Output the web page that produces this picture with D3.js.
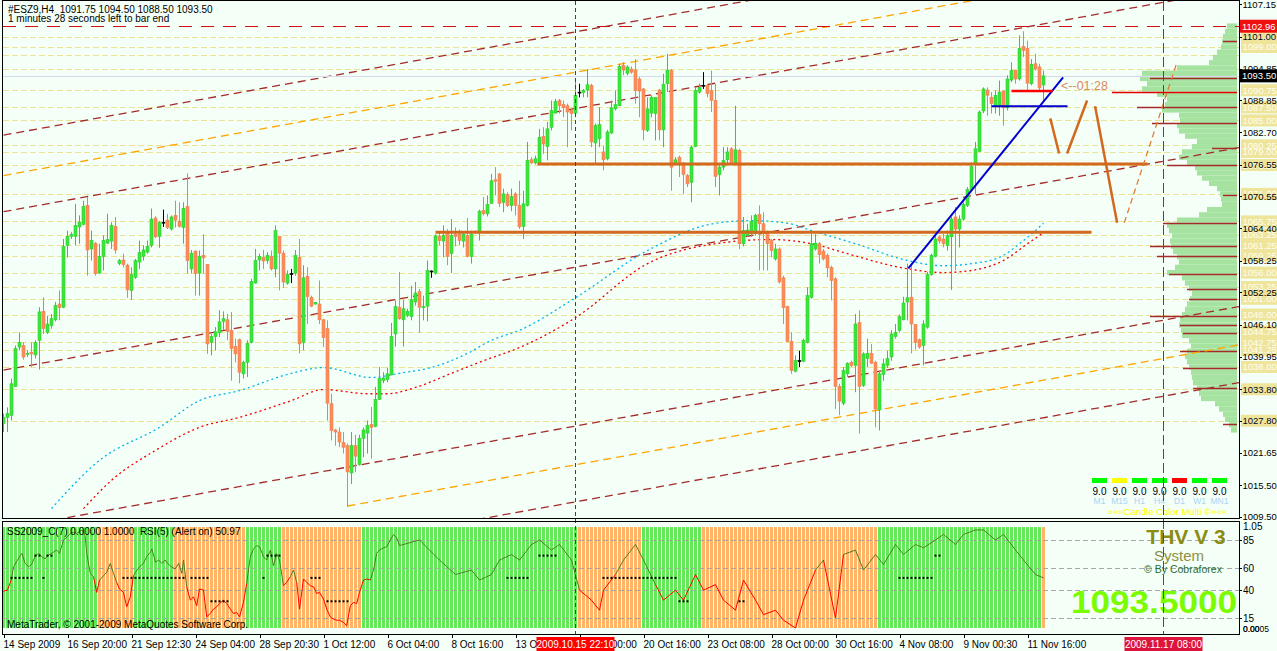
<!DOCTYPE html>
<html lang="en">
  <head>
    <meta charset="utf-8" />
    <title>#ESZ9,H4</title>
    <script type="text/javascript" src="https://d3js.org/d3.v7.min.js"></script>
    <style>
      body { margin: 0; background: #f4fff8; }
      text { font-family: "Liberation Sans", Arial, sans-serif; }
    </style>
  </head>
  <body>
    <script type="text/javascript">
      // ---- data ----
      // one candle per H4 bar: [open, high, low, close]
      var candles = [
        [1027.2,1029.1,1025.6,1028.4],[1028.4,1030.3,1025.6,1029.1],[1028.8,1035.8,1027.8,1034.8],[1034.3,1042.1,1034.2,1041.5],
        [1041.8,1044.6,1041.2,1042.7],[1042.1,1042.7,1039.4,1039.9],[1040.4,1041.2,1039.9,1040.6],[1040.8,1042.7,1038.0,1040.5],
        [1040.3,1043.1,1039.6,1042.7],[1043.1,1049.4,1037.5,1048.5],[1048.6,1051.3,1044.3,1045.3],[1044.6,1047.8,1044.3,1046.2],
        [1045.9,1048.1,1045.3,1047.2],[1047.0,1050.4,1046.7,1049.7],[1050.0,1052.6,1046.9,1049.3],[1049.4,1062.4,1049.2,1061.0],
        [1061.2,1064.0,1058.9,1062.9],[1062.9,1063.7,1062.4,1063.3],[1062.9,1069.1,1061.2,1065.0],[1064.7,1066.9,1061.5,1065.6],
        [1065.2,1069.7,1065.0,1068.6],[1068.8,1070.4,1055.4,1060.3],[1060.5,1064.0,1058.3,1062.1],[1061.6,1061.8,1055.4,1055.8],
        [1055.9,1061.5,1055.8,1059.1],[1059.1,1063.1,1056.4,1062.1],[1061.6,1067.2,1061.5,1062.3],[1062.0,1065.6,1060.5,1065.0],
        [1064.8,1066.6,1059.6,1060.3],[1057.7,1058.6,1057.4,1058.3],[1058.4,1059.6,1057.0,1057.5],[1057.4,1057.7,1051.2,1052.7],
        [1052.6,1057.0,1050.8,1055.6],[1055.1,1058.6,1054.8,1058.3],[1058.0,1062.1,1056.7,1059.8],[1059.1,1061.2,1058.3,1060.3],
        [1059.9,1062.1,1059.6,1061.0],[1061.2,1068.2,1060.8,1066.2],[1066.4,1066.7,1062.6,1062.8],[1062.9,1065.8,1060.7,1065.5],
        [1065.6,1068.0,1064.7,1065.6],[1066.0,1067.2,1064.3,1064.6],[1064.3,1066.9,1064.0,1066.6],[1066.9,1069.7,1064.6,1066.0],
        [1065.8,1069.4,1064.6,1064.8],[1064.6,1069.4,1061.5,1068.2],[1068.6,1074.9,1055.8,1058.3],[1056.7,1060.3,1055.8,1059.7],
        [1060.1,1060.2,1051.6,1055.8],[1055.9,1060.2,1051.6,1059.1],[1059.3,1063.3,1055.8,1058.8],[1057.5,1057.6,1040.5,1042.4],
        [1042.7,1044.3,1040.2,1043.8],[1043.8,1045.6,1041.2,1044.7],[1044.5,1048.8,1043.7,1046.6],[1046.7,1048.6,1045.0,1047.2],
        [1047.0,1048.1,1043.1,1044.8],[1045.0,1048.5,1035.4,1041.5],[1041.9,1043.4,1038.9,1040.5],[1043.2,1043.4,1034.9,1037.0],
        [1036.7,1039.2,1035.8,1038.9],[1038.9,1043.1,1036.1,1042.5],[1042.7,1054.8,1042.5,1054.3],[1054.0,1060.5,1053.9,1058.3],
        [1058.4,1059.6,1056.4,1059.1],[1058.9,1060.3,1056.7,1058.2],[1058.3,1059.9,1057.7,1059.3],[1059.1,1060.2,1056.4,1056.7],
        [1056.7,1065.0,1055.1,1064.0],[1062.9,1062.9,1052.6,1059.7],[1059.7,1060.2,1053.1,1054.2],[1054.0,1056.4,1053.7,1055.6],
        [1055.8,1056.7,1054.0,1055.8],[1055.9,1060.3,1055.4,1059.3],[1058.9,1062.4,1040.6,1042.4],[1042.7,1057.4,1041.2,1055.0],
        [1055.3,1057.0,1046.2,1051.4],[1051.3,1051.6,1049.4,1049.6],[1050.0,1050.4,1049.9,1050.3],[1050.0,1054.5,1046.2,1047.0],
        [1047.0,1047.2,1041.8,1043.6],[1045.3,1046.9,1027.8,1031.1],[1031.0,1032.9,1024.0,1025.9],[1026.0,1026.2,1023.0,1025.6],
        [1025.6,1026.5,1022.7,1023.7],[1023.6,1025.6,1021.5,1022.7],[1023.0,1023.4,1011.3,1018.0],[1017.8,1025.6,1015.7,1023.0],
        [1023.0,1025.1,1018.0,1021.0],[1019.4,1025.1,1019.2,1024.4],[1024.4,1026.5,1020.8,1026.0],[1025.4,1027.8,1021.5,1026.9],
        [1027.0,1030.4,1020.5,1026.5],[1026.7,1034.2,1026.5,1031.8],[1031.8,1038.0,1031.8,1035.8],[1035.4,1037.0,1034.9,1035.9],
        [1035.6,1037.9,1035.1,1036.7],[1036.5,1046.4,1036.4,1043.8],[1044.3,1050.7,1041.9,1049.5],[1049.4,1056.1,1047.0,1047.2],
        [1047.0,1050.8,1041.9,1049.1],[1047.8,1049.1,1047.5,1048.6],[1047.6,1053.5,1046.9,1050.8],[1050.4,1054.2,1049.7,1052.1],
        [1052.4,1052.9,1044.5,1049.4],[1049.3,1051.6,1046.9,1049.5],[1049.6,1058.3,1046.7,1056.4],[1056.3,1056.4,1055.0,1056.3],
        [1055.9,1063.3,1055.6,1063.0],[1062.9,1063.7,1061.2,1062.1],[1062.0,1065.0,1058.9,1063.1],[1063.5,1064.3,1057.4,1059.1],
        [1059.6,1066.2,1055.9,1063.1],[1063.3,1064.6,1061.0,1062.9],[1063.3,1064.2,1061.2,1062.1],[1062.0,1063.9,1060.8,1063.3],
        [1063.1,1066.4,1058.9,1059.1],[1059.1,1064.0,1057.7,1063.3],[1063.9,1064.0,1063.5,1063.6],[1063.7,1068.0,1062.1,1067.7],
        [1067.8,1070.4,1066.9,1067.2],[1067.2,1070.7,1066.7,1069.0],[1069.2,1074.8,1069.1,1073.5],[1073.7,1076.1,1070.7,1073.4],
        [1074.8,1075.0,1068.5,1069.2],[1069.4,1072.0,1067.5,1071.0],[1070.9,1071.3,1068.5,1068.8],[1068.8,1072.0,1067.7,1070.5],
        [1071.0,1071.3,1066.9,1068.8],[1068.8,1073.5,1064.3,1064.7],[1064.8,1071.6,1062.4,1069.1],[1068.8,1080.9,1068.6,1077.4],
        [1077.5,1078.0,1076.7,1076.9],[1076.9,1078.3,1076.6,1077.7],[1076.6,1083.4,1076.5,1081.8],[1081.9,1083.7,1078.6,1080.5],
        [1080.0,1084.7,1077.4,1083.4],[1083.7,1088.8,1083.1,1086.9],[1086.4,1089.1,1086.3,1088.6],[1088.8,1089.1,1086.3,1087.8],
        [1088.0,1088.8,1085.6,1087.4],[1087.8,1088.2,1079.9,1086.6],[1086.9,1087.2,1083.1,1086.3],[1086.4,1092.9,1085.6,1089.8],
        [1090.4,1092.0,1089.4,1090.4],[1090.3,1091.0,1089.4,1090.7],[1090.8,1094.8,1089.4,1091.8],[1091.7,1092.0,1079.9,1080.9],
        [1080.7,1084.4,1076.9,1084.0],[1081.5,1087.5,1079.9,1084.2],[1079.0,1080.2,1075.5,1077.5],[1077.7,1083.2,1077.4,1082.8],
        [1082.6,1088.8,1082.4,1087.4],[1087.2,1090.7,1086.9,1088.0],[1087.8,1095.8,1087.7,1095.3],[1095.5,1096.1,1093.6,1094.6],
        [1094.0,1095.5,1093.6,1095.2],[1094.8,1095.3,1093.9,1094.2],[1094.6,1096.7,1088.2,1090.7],[1092.9,1093.3,1085.6,1090.6],
        [1091.0,1091.2,1081.2,1083.2],[1083.1,1089.4,1082.8,1087.2],[1086.4,1089.8,1085.6,1089.4],[1086.3,1089.4,1081.2,1089.4],
        [1090.8,1091.0,1081.2,1083.2],[1083.2,1093.9,1079.9,1091.9],[1092.0,1097.7,1090.4,1094.6],[1094.5,1094.8,1071.6,1076.1],
        [1076.7,1078.0,1076.4,1077.5],[1078.0,1078.3,1074.2,1077.0],[1076.9,1077.0,1071.0,1074.7],[1074.5,1074.8,1072.3,1072.9],
        [1073.2,1080.2,1069.4,1079.9],[1080.0,1091.3,1079.9,1090.7],[1090.4,1092.0,1090.1,1091.3],[1091.7,1094.2,1091.0,1091.7],
        [1091.7,1092.0,1089.4,1090.1],[1090.7,1094.5,1086.6,1088.8],[1088.8,1092.0,1072.3,1074.3],[1074.7,1076.7,1070.7,1076.1],
        [1076.1,1079.9,1075.5,1077.4],[1077.5,1079.9,1076.7,1079.0],[1079.6,1079.9,1076.7,1076.9],[1076.9,1087.8,1076.7,1079.4],
        [1079.3,1079.6,1060.5,1061.5],[1061.5,1066.6,1061.0,1064.0],[1063.1,1065.3,1062.8,1064.1],[1063.4,1066.9,1062.8,1065.8],
        [1063.4,1067.2,1063.1,1066.9],[1067.1,1068.8,1056.4,1065.3],[1065.3,1067.5,1056.4,1063.4],[1063.5,1064.0,1056.4,1061.5],
        [1062.1,1062.4,1058.9,1060.2],[1058.6,1061.5,1058.3,1060.5],[1060.5,1060.8,1053.9,1054.2],[1055.0,1055.4,1046.2,1049.3],
        [1049.5,1049.7,1042.7,1042.9],[1042.9,1044.6,1036.7,1037.3],[1037.2,1040.2,1037.0,1039.2],[1039.2,1041.1,1038.0,1039.2],
        [1039.1,1043.4,1038.9,1043.1],[1042.7,1053.2,1042.5,1051.6],[1051.3,1063.4,1051.0,1061.5],[1060.5,1063.3,1060.2,1061.6],
        [1061.5,1061.8,1057.7,1059.4],[1060.1,1060.5,1058.3,1058.6],[1059.3,1059.6,1055.1,1056.9],[1057.0,1057.3,1050.7,1054.5],
        [1054.8,1055.1,1030.0,1034.3],[1034.3,1034.8,1028.8,1031.5],[1031.1,1038.0,1030.7,1037.3],[1036.7,1038.9,1036.1,1038.7],
        [1038.9,1039.2,1038.0,1038.3],[1038.3,1048.1,1033.2,1046.2],[1046.5,1048.8,1025.3,1034.3],[1034.5,1040.8,1034.2,1040.5],
        [1039.6,1043.4,1038.0,1040.6],[1040.6,1042.4,1038.6,1038.7],[1038.9,1039.2,1026.5,1030.0],[1029.8,1037.3,1025.9,1036.7],
        [1036.6,1039.6,1035.4,1038.6],[1038.3,1041.1,1037.8,1039.6],[1039.9,1045.0,1039.2,1044.3],[1043.8,1046.2,1043.4,1044.6],
        [1045.0,1048.0,1044.6,1047.6],[1047.0,1051.4,1046.9,1050.2],[1050.4,1057.7,1046.9,1051.2],[1051.3,1057.7,1040.6,1046.2],
        [1046.1,1046.2,1041.3,1042.7],[1043.2,1043.4,1041.5,1041.8],[1042.1,1046.9,1038.3,1046.2],[1045.6,1056.1,1045.3,1055.6],
        [1055.6,1059.6,1055.4,1059.3],[1059.1,1063.1,1058.9,1062.4],[1062.8,1063.1,1061.5,1062.0],[1062.4,1063.4,1060.8,1061.5],
        [1061.2,1064.0,1060.2,1063.1],[1062.8,1066.6,1052.7,1066.2],[1066.6,1068.5,1056.4,1064.3],[1064.3,1066.9,1060.8,1066.2],
        [1066.2,1069.4,1065.9,1069.0],[1068.8,1072.3,1068.5,1071.8],[1071.8,1077.0,1071.5,1076.2],[1076.7,1080.9,1071.0,1079.6],
        [1079.1,1086.9,1079.0,1086.6],[1086.8,1091.3,1086.4,1091.0],[1090.8,1091.3,1085.9,1089.8],[1089.4,1090.4,1086.3,1088.2],
        [1087.8,1090.7,1086.3,1089.8],[1087.8,1092.6,1085.9,1090.4],[1090.6,1090.7,1084.0,1087.4],[1087.4,1093.6,1086.9,1092.9],
        [1092.7,1096.1,1092.3,1094.5],[1094.5,1094.6,1092.0,1092.9],[1092.9,1101.2,1092.6,1098.7],[1099.1,1102.0,1097.1,1098.3],
        [1098.7,1100.2,1090.4,1092.1],[1092.0,1096.7,1091.7,1095.7],[1095.8,1097.7,1094.5,1094.8],[1095.2,1095.8,1090.7,1091.2],
        [1091.75,1094.5,1088.5,1093.5]
      ];

      // moving averages, [bar, price] read at sample bars
      var cyanMA = [[12,1011.0],[24,1020.2],[39,1026.5],[49,1031.6],[59,1033.5],[72,1036.8],[80,1037.9],[92,1036.0],[99,1036.8],
        [107,1037.9],[116,1040.6],[122,1043.1],[129,1045.0],[143,1051.2],[161,1060.2],[178,1065.4],[187,1065.9],[196,1065.4],
        [202,1064.0],[213,1061.5],[226,1058.3],[235,1057.3],[242,1057.7],[249,1058.9],[255,1062.1],[260,1065.4]];
      var redMA = [[20,1011.0],[27,1016.4],[38,1022.1],[49,1026.5],[59,1028.4],[72,1031.6],[80,1033.7],[91,1032.9],[96,1032.9],
        [103,1034.1],[112,1036.8],[120,1039.2],[129,1041.7],[143,1047.4],[161,1057.7],[178,1061.5],[192,1062.3],[202,1061.5],
        [211,1059.6],[224,1057.0],[235,1056.0],[242,1056.4],[250,1058.3],[256,1061.5],[260,1063.6]];

      // price channel lines [bar0, price0, bar1, price1]
      var redChannels = [[0,1082.2,300,1123.5],[0,1067.6,300,1108.9],[0,1037.4,300,1078.6],[0,1007.1,300,1048.3],[0,992.7,300,1033.8]];
      var orangeChannels = [[0,1074.5,300,1115.8],[86,1011.5,300,1041.0]];

      // horizontal support / resistance [barFrom, barTo, price]
      var srLines = [[108,272,1063.7],[133.5,286,1076.7]];
      var blueTrend = [[226.2,1056.8],[264.9,1093.2]];
      var blueLevel = [247,266,1087.7];
      var redLevel = [252,262.3,1090.6];
      var projection = [[[261.7,1085.4],[263.9,1078.7]],[[265.9,1078.7],[270.9,1088.8]],[[272.9,1087.7],[278.4,1065.5]]];
      var projectionDashed = [[280.2,1065.5],[293.2,1095.7]];

      var pivotLevels = [1101.0,1099.0,1097.5,1094.85,1090.75,1087.5,1085.0,1080.25,1079.0,1076.5,1071.0,1065.75,1063.25,
        1061.25,1059.25,1056.0,1053.25,1051.0,1048.0,1044.75,1042.75,1041.25,1038.0,1033.75,1027.75];
      var pivotLabels = [1099.0,1090.75,1087.5,1085.0,1080.25,1079.0,1076.5,1071.0,1065.75,1063.25,1061.25,1059.25,1056.0,
        1053.25,1051.0,1048.0,1044.75,1042.75,1041.25,1038.0,1033.75,1027.75,1101.0];

      var priceTicks = [1107.15,1101.00,1094.85,1088.85,1082.70,1076.55,1070.55,1064.40,1058.25,1052.25,1046.10,1039.95,
        1033.80,1027.80,1021.65,1015.50,1009.50];
      var bidPrice = 1093.50;
      var highPrice = 1102.96;

      // volume profile on the right
      var profilePrices = [1103,1102,1101,1100,1099,1098,1097,1096,1095,1094,1093,1092,1091,1090,1089,1088,1087,1086,1085,1084,
        1083,1082,1081,1080,1079,1078,1077,1076,1075,1074,1073,1072,1071,1070,1069,1068,1067,1066,1065,1064,1063,1062,1061,
        1060,1059,1058,1057,1056,1055,1054,1053,1052,1051,1050,1049,1048,1047,1046,1045,1044,1043,1042,1041,1040,1039,1038,
        1037,1036,1035,1034,1033,1032,1031,1030,1029,1028,1027,1026];
      var profileVolumes = [10,12,14,15,16,20,24,28,60,95,97,90,95,80,70,72,75,58,57,60,58,52,40,45,55,58,50,42,40,35,28,20,17,
        16,15,30,38,60,70,68,65,67,66,64,60,58,62,70,55,52,48,45,47,50,52,55,57,58,56,55,48,46,50,52,50,48,46,45,44,40,38,36,
        22,18,14,12,8,6];
      var profileLevels = [[1100.2,14],[1093.0,87],[1087.5,100],[1084.6,85],[1079.8,25],[1076.6,70],[1070.7,14],[1065.4,74],
        [1061.0,87],[1059.1,80],[1055.8,68],[1052.8,50],[1050.9,48],[1047.8,87],[1046.1,57],[1044.4,54],[1041.1,57],
        [1037.9,54],[1033.9,44],[1027.2,14]];
      var profileRedLevel = [1090.5,125];

      // time axis
      var timeBars = [0,16,32,48,64,80,96,112,128,144,160,176,192,208,224,240,256];
      var timeLabels = ["14 Sep 2009","16 Sep 20:00","21 Sep 12:30","24 Sep 04:00","28 Sep 20:30","1 Oct 12:00",
        "6 Oct 04:00","8 Oct 16:00","13 Oct 08:00","16 Oct 00:00","20 Oct 16:00","23 Oct 08:00","28 Oct 00:00",
        "30 Oct 16:00","4 Nov 08:00","9 Nov 00:30","11 Nov 16:00"];
      var cursorBars = [143, 290];
      var cursorLabels = ["2009.10.15 22:10","2009.11.17 08:00"];

      // indicator window
      var signalRuns = [[1,24],[0,9],[1,10],[0,18],[1,9],[0,20],[1,54],[0,16],[1,15],[0,44],[1,41],[0,1]];
      var rsiPoints = [[0,39],[1,40],[2,50],[2.5,61],[4,70],[4.6,73],[5.4,64],[6.3,61],[7,63],[8,71],[8.8,73],[9.6,70],
        [10.4,68],[11,71],[12,73],[13.3,76],[14,73],[15,85],[16,88],[16.7,91],[17.5,92],[18.3,91],[19.6,94],[20.4,89],
        [20.8,73],[21.7,55],[22.5,52],[23.3,38],[24,49],[25,53],[25.8,56],[26.7,64],[27.5,55],[28.3,47],[29,41],[30,38],
        [30.8,25],[31.7,34],[32.5,53],[33,56],[34,61],[35,64],[35.8,70],[36.7,74],[37.1,77],[38,65],[38.8,67],[39.6,64],
        [40.4,67],[41,64],[42,61],[42.9,59],[43.8,64],[44.6,55],[45,67],[45.8,43],[46.7,31],[47.5,34],[48.3,26],[49,41],
        [50,40],[50.8,16],[51.7,19],[52.5,23],[53.3,25],[54,28],[55,31],[55.8,28],[56.7,23],[57.5,19],[58.3,20],[59,16],
        [60,29],[60.8,46],[61.7,70],[62.5,77],[63.3,80],[64,79],[65,70],[65.8,67],[66.7,76],[67.5,62],[68.3,73],[69,67],
        [70,44],[70.8,47],[71.7,52],[72.5,58],[73.3,47],[74,23],[75,50],[75.8,47],[76.7,44],[77.5,43],[78.3,37],[79,38],
        [80,32],[80.8,23],[81.7,16],[82.5,14],[83.3,13],[84,13],[85,11],[85.8,8],[86.7,26],[87.5,29],[88.3,28],[89,38],
        [90,49],[90.8,50],[91.7,49],[92.5,58],[93.3,73],[94,76],[95,78],[95.8,79],[96.7,85],[97.5,90],[98.3,87],[99,80],
        [104,85],[109,67],[113,54],[117,58],[119,49],[122,54],[124,67],[127,72],[129,67],[132,81],[134,85],[137,76],
        [139,81],[142,67],[144,40],[147,31],[149,22],[150,40],[153,54],[155,67],[158,81],[160,67],[163,45],[165,31],
        [168,40],[170,31],[173,54],[175,40],[178,45],[180,31],[183,22],[185,49],[188,31],[190,18],[193,22],[195,13],
        [198,6],[200,31],[203,58],[205,67],[208,15],[210,72],[213,76],[215,58],[218,72],[220,63],[223,81],[225,72],
        [228,81],[230,78],[233,85],[235,90],[238,81],[240,90],[243,94],[245,94],[248,85],[250,90],[253,76],[255,67],
        [258,54],[260,51]];
      var dotLevels = [51, 71, 30];
      var dotsMidBars = [2,3,4,5,6,7,10,30,31,32,33,34,35,36,37,38,39,40,41,42,43,44,45,47,48,49,50,51,65,77,78,79,
        126,127,128,129,130,131,150,151,152,153,154,155,156,157,158,159,160,161,162,163,164,165,166,167,168,
        224,225,226,227,228,229,230,231,232];
      var dotsHighBars = [8,9,11,12,66,67,68,69,134,135,136,137,138,233,234];
      var dotsLowBars = [52,53,54,55,56,81,82,83,84,85,86,169,170,171,184,185];
      var rsiLevels = [85, 60, 40, 15];

      var tfNames = ["M1","M15","H1","H4","D1","W1","MN1"];
      var tfValues = ["9.0","9.0","9.0","9.0","9.0","9.0","9.0"];
      var tfState = [1, 2, 1, 1, 0, 1, 1];

      // ---- drawing ----
      var W = 1277, H = 651;
      var left = 3, right = 1239, mainBottom = 518, subTop = 522, subBottom = 634;

      var x = d3.scaleLinear().domain([0, 1]).range([3.5, 7.5]);
      var y = d3.scaleLinear().domain([1009.5, 1101]).range([516.5, 36.5]);
      var rsiY = d3.scaleLinear().domain([0, 100]).range([634.7, 523.3]);
      var ssY = d3.scaleLinear().domain([0, 1.05]).range([628, 522]);
      var vol = d3.scaleLinear().domain([0, 100]).range([0, 100]);
      var fmt = d3.format(".2f");
      function py(p) { return Math.round(y(p)) + 0.5; }

      var svg = d3.select("body").append("svg").attr("width", W).attr("height", H);
      svg.append("rect").attr("width", W).attr("height", H).attr("fill", "#f4fff8");

      var defs = svg.append("defs");
      defs.append("clipPath").attr("id", "mainClip").append("rect")
        .attr("x", left).attr("y", 1).attr("width", right - left).attr("height", mainBottom - 1);
      defs.append("clipPath").attr("id", "subClip").append("rect")
        .attr("x", left).attr("y", subTop).attr("width", right - left).attr("height", subBottom - subTop);

      var main = svg.append("g").attr("clip-path", "url(#mainClip)");

      // pivot levels (yellow dashes)
      main.selectAll(".pivot").data(pivotLevels).enter().append("line")
        .attr("x1", left).attr("x2", right).attr("y1", py).attr("y2", py)
        .attr("stroke", "#ece294").attr("stroke-dasharray", "6,3");

      // volume profile
      main.selectAll(".prof").data(profilePrices).enter().append("rect")
        .attr("x", function (d, i) { return 1237 - vol(profileVolumes[i]); })
        .attr("y", function (d) { return y(d + 0.5); })
        .attr("width", function (d, i) { return vol(profileVolumes[i]); })
        .attr("height", function (d) { return y(d - 0.5) - y(d + 0.5); })
        .attr("fill", "#a6e3a0");
      main.selectAll(".plev").data(profileLevels).enter().append("line")
        .attr("x1", function (d) { return 1237 - vol(d[1]); }).attr("x2", 1237)
        .attr("y1", function (d) { return py(d[0]); }).attr("y2", function (d) { return py(d[0]); })
        .attr("stroke", "#a52a2a").attr("stroke-width", 1.5);
      main.append("line")
        .attr("x1", 1237 - vol(profileRedLevel[1])).attr("x2", 1237)
        .attr("y1", py(profileRedLevel[0])).attr("y2", py(profileRedLevel[0]))
        .attr("stroke", "#e00000").attr("stroke-width", 1.5);

      // channels
      function chanLine(d) {
        var slope = (d[3] - d[1]) / (d[2] - d[0]);
        return [[x(d[0]), y(d[1])], [x(312), y(d[1] + slope * (312 - d[0]))]];
      }
      main.selectAll(".rch").data(redChannels).enter().append("path")
        .attr("d", function (d) { return d3.line()(chanLine(d)); })
        .attr("stroke", "#a52a2a").attr("stroke-width", 1.3).attr("stroke-dasharray", "8,5").attr("fill", "none");
      main.selectAll(".och").data(orangeChannels).enter().append("path")
        .attr("d", function (d) { return d3.line()(chanLine(d)); })
        .attr("stroke", "#ffa500").attr("stroke-width", 1.3).attr("stroke-dasharray", "8,5").attr("fill", "none");

      // bid line and high line
      main.append("line").attr("x1", left).attr("x2", right).attr("y1", py(bidPrice)).attr("y2", py(bidPrice))
        .attr("stroke", "#d8d8ee");
      main.append("line").attr("x1", left).attr("x2", right).attr("y1", py(highPrice)).attr("y2", py(highPrice))
        .attr("stroke", "#d01010").attr("stroke-dasharray", "13,9");

      // moving averages
      var maLine = d3.line().curve(d3.curveMonotoneX)
        .x(function (d) { return x(d[0]); }).y(function (d) { return y(d[1]); });
      main.append("path").attr("d", maLine(cyanMA)).attr("fill", "none")
        .attr("stroke", "#00b4f0").attr("stroke-width", 1.3).attr("stroke-dasharray", "2,3");
      main.append("path").attr("d", maLine(redMA)).attr("fill", "none")
        .attr("stroke", "#ee0000").attr("stroke-width", 1.3).attr("stroke-dasharray", "2,3");

      // candles
      var cg = main.selectAll(".candle").data(candles).enter().append("g");
      function candleColor(d) { return d[3] > d[0] ? "#32cd32" : (d[3] < d[0] ? "#f08050" : "#000000"); }
      cg.append("line")
        .attr("x1", function (d, i) { return x(i); }).attr("x2", function (d, i) { return x(i); })
        .attr("y1", function (d) { return y(d[1]); }).attr("y2", function (d) { return y(d[2]); })
        .attr("stroke", candleColor);
      cg.append("rect")
        .attr("x", function (d, i) { return x(i) - 1.5; })
        .attr("y", function (d) { return y(Math.max(d[0], d[3])); })
        .attr("width", 3)
        .attr("height", function (d) { return Math.max(1, y(Math.min(d[0], d[3])) - y(Math.max(d[0], d[3]))); })
        .attr("fill", function (d) { return d[3] > d[0] ? "#3be63b" : (d[3] < d[0] ? "#fa8c5c" : "#000000"); })
        .attr("stroke", candleColor).attr("stroke-width", 0.6);

      // horizontal S/R lines
      main.selectAll(".sr").data(srLines).enter().append("line")
        .attr("x1", function (d) { return x(d[0]); }).attr("x2", function (d) { return x(d[1]); })
        .attr("y1", function (d) { return y(d[2]); }).attr("y2", function (d) { return y(d[2]); })
        .attr("stroke", "#d2691e").attr("stroke-width", 3);

      // blue trend and levels
      main.append("line").attr("x1", x(blueTrend[0][0])).attr("y1", y(blueTrend[0][1]))
        .attr("x2", x(blueTrend[1][0])).attr("y2", y(blueTrend[1][1]))
        .attr("stroke", "#0000d0").attr("stroke-width", 2);
      main.append("line").attr("x1", x(blueLevel[0])).attr("x2", x(blueLevel[1]))
        .attr("y1", y(blueLevel[2])).attr("y2", y(blueLevel[2])).attr("stroke", "#0000d0").attr("stroke-width", 2);
      main.append("line").attr("x1", x(redLevel[0])).attr("x2", x(redLevel[1]))
        .attr("y1", y(redLevel[2])).attr("y2", y(redLevel[2])).attr("stroke", "#ff0000").attr("stroke-width", 2.5);

      // projected zigzag
      var ptLine = d3.line().x(function (d) { return x(d[0]); }).y(function (d) { return y(d[1]); });
      main.selectAll(".proj").data(projection).enter().append("path")
        .attr("d", ptLine).attr("stroke", "#d2691e").attr("stroke-width", 2.5).attr("fill", "none");
      main.append("path").attr("d", ptLine(projectionDashed))
        .attr("stroke", "#e07a30").attr("stroke-width", 1.2).attr("stroke-dasharray", "6,4").attr("fill", "none");

      main.append("text").attr("x", 1061).attr("y", 90).attr("font-size", 12.5).attr("fill", "#dc8a5a")
        .text("<--01:28");

      // timeframe panel
      var tf = main.selectAll(".tf").data(tfNames).enter().append("g")
        .attr("transform", function (d, i) { return "translate(" + (1092 + i * 20) + ",0)"; });
      tf.append("rect").attr("y", 478).attr("width", 15).attr("height", 5)
        .attr("fill", function (d, i) { return ["#ff0000", "#00ff00", "#ffff00"][tfState[i]]; });
      tf.append("text").attr("x", 7.5).attr("y", 495).attr("text-anchor", "middle").attr("font-size", 10)
        .attr("fill", "#000").text(function (d, i) { return tfValues[i]; });
      tf.append("text").attr("x", 7.5).attr("y", 504).attr("text-anchor", "middle").attr("font-size", 8.5)
        .attr("fill", "#a8d4f4").text(function (d) { return d; });
      main.append("text").attr("x", 1227).attr("y", 515).attr("text-anchor", "end").attr("font-size", 9.5)
        .attr("fill", "#ffff00").text("\u00bb\u00bb\u00bbCandle Color Multi \u00a9\u00ab\u00ab\u00ab");

      // header
      svg.append("text").attr("x", 8).attr("y", 13).attr("font-size", 10).attr("fill", "#000")
        .attr("xml:space", "preserve").text("#ESZ9,H4  1091.75 1094.50 1088.50 1093.50");
      svg.append("text").attr("x", 8).attr("y", 22).attr("font-size", 10).attr("fill", "#000")
        .text("1 minutes 28 seconds left to bar end");

      // ---- indicator window ----
      var sub = svg.append("g").attr("clip-path", "url(#subClip)");
      var signal = [];
      signalRuns.forEach(function (r) { for (var k = 0; k < r[1]; k++) signal.push(r[0]); });
      sub.selectAll(".hist").data(signal).enter().append("rect")
        .attr("x", function (d, i) { return x(i) - 1.5; }).attr("width", 3)
        .attr("y", ssY(1)).attr("height", ssY(0) - ssY(1))
        .attr("fill", function (d) { return d ? "#64e85a" : "#ffb468"; });
      sub.selectAll(".lev").data(rsiLevels).enter().append("line")
        .attr("x1", left).attr("x2", right)
        .attr("y1", function (d) { return Math.round(rsiY(d)) + 0.5; })
        .attr("y2", function (d) { return Math.round(rsiY(d)) + 0.5; })
        .attr("stroke", "#a8a8a8").attr("stroke-dasharray", "5,3");
      var segs = d3.pairs(rsiPoints);
      sub.selectAll(".rsi").data(segs).enter().append("line")
        .attr("x1", function (d) { return x(d[0][0]); }).attr("y1", function (d) { return rsiY(d[0][1]); })
        .attr("x2", function (d) { return x(d[1][0]); }).attr("y2", function (d) { return rsiY(d[1][1]); })
        .attr("stroke", function (d) { return (d[0][1] + d[1][1]) / 2 < 50 ? "#ff0000" : "#4f7a26"; })
        .attr("stroke-width", 1);
      [dotsMidBars, dotsHighBars, dotsLowBars].forEach(function (bars, k) {
        sub.selectAll(".dot" + k).data(bars).enter().append("rect")
          .attr("x", function (d) { return x(d) - 1; }).attr("y", rsiY(dotLevels[k]) - 1)
          .attr("width", 2).attr("height", 2).attr("fill", "#000");
      });
      svg.append("text").attr("x", 7).attr("y", 535).attr("font-size", 10).attr("fill", "#000")
        .attr("xml:space", "preserve").text("SS2009_C(7) 0.0000 1.0000  RSI(5) (Alert on) 50.97");
      svg.append("text").attr("x", 7).attr("y", 628).attr("font-size", 10).attr("fill", "#000")
        .text("MetaTrader, \u00a9 2001-2009 MetaQuotes Software Corp.");

      svg.append("text").attr("x", 1186).attr("y", 544).attr("text-anchor", "middle").attr("font-size", 21)
        .attr("font-weight", "bold").attr("fill", "#8c8c14").text("THV V 3");
      svg.append("text").attr("x", 1179).attr("y", 561).attr("text-anchor", "middle").attr("font-size", 15)
        .attr("fill", "#8f8f40").text("System");
      svg.append("text").attr("x", 1183).attr("y", 573).attr("text-anchor", "middle").attr("font-size", 10.5)
        .attr("fill", "#2f6f2f").text("\u00a9 By Cobraforex");
      svg.append("text").attr("x", 1071).attr("y", 613).attr("font-size", 32).attr("font-weight", "bold")
        .attr("textLength", 166).attr("lengthAdjust", "spacingAndGlyphs")
        .attr("fill", "#7cfc00").text("1093.5000");

      // cursor lines
      svg.selectAll(".cur").data(cursorBars).enter().append("line")
        .attr("x1", function (d) { return x(d); }).attr("x2", function (d) { return x(d); })
        .attr("y1", 1).attr("y2", subBottom)
        .attr("stroke", function (d, i) { return i ? "#b22222" : "#e00000"; })
        .attr("stroke-dasharray", function (d, i) { return i ? "10,4" : "4,3"; });

      // frames
      svg.append("rect").attr("x", 2.5).attr("y", 0.5).attr("width", right - 2).attr("height", mainBottom)
        .attr("fill", "none").attr("stroke", "#000");
      svg.append("rect").attr("x", 2.5).attr("y", subTop - 0.5).attr("width", right - 2).attr("height", subBottom - subTop + 1)
        .attr("fill", "none").attr("stroke", "#000");

      // price axis labels
      var ax = svg.append("g");
      ax.selectAll(".yl").data(pivotLabels).enter().append("rect")
        .attr("x", 1241).attr("y", function (d) { return y(d) - 6; }).attr("width", 36).attr("height", 12)
        .attr("fill", "#eee49a");
      ax.selectAll(".ylt").data(pivotLabels).enter().append("text")
        .attr("x", 1242.5).attr("y", function (d) { return y(d) + 3.5; }).attr("font-size", 9.5).attr("fill", "#fffff4")
        .text(fmt);
      ax.selectAll(".tk").data(priceTicks).enter().append("line")
        .attr("x1", right).attr("x2", right + 3)
        .attr("y1", function (d) { return py(d); }).attr("y2", function (d) { return py(d); }).attr("stroke", "#000");
      ax.selectAll(".tkt").data(priceTicks).enter().append("text")
        .attr("x", 1242.5).attr("y", function (d) { return y(d) + 3.5; }).attr("font-size", 9.5).attr("fill", "#000")
        .text(fmt);
      [[bidPrice, "#000000"], [highPrice, "#f01010"]].forEach(function (b) {
        ax.append("rect").attr("x", 1240).attr("y", y(b[0]) - 6.5).attr("width", 37).attr("height", 13).attr("fill", b[1]);
        ax.append("text").attr("x", 1242).attr("y", y(b[0]) + 3.5).attr("font-size", 9.5).attr("fill", "#fff").text(fmt(b[0]));
      });

      // indicator axis
      var subTicks = [[1.05, "1.05"], [85, "85"], [60, "60"], [40, "40"], [15, "15"]];
      ax.selectAll(".st").data(subTicks).enter().append("text")
        .attr("x", 1243).attr("y", function (d) { return (d[1] === "1.05" ? ssY(d[0]) + 8 : rsiY(d[0]) + 4); })
        .attr("font-size", 10).attr("fill", "#000").text(function (d) { return d[1]; });
      ax.selectAll(".stk").data(rsiLevels).enter().append("line")
        .attr("x1", right).attr("x2", right + 3)
        .attr("y1", function (d) { return Math.round(rsiY(d)) + 0.5; })
        .attr("y2", function (d) { return Math.round(rsiY(d)) + 0.5; }).attr("stroke", "#000");
      ax.append("text").attr("x", 1243).attr("y", 632).attr("font-size", 8.5).attr("fill", "#000").text("0.00");
      ax.append("text").attr("x", 1243).attr("y", 632).attr("font-size", 8.5).attr("fill", "#000").text("0.0005");

      // time axis
      var tg = svg.append("g");
      tg.selectAll(".tt").data(timeBars).enter().append("line")
        .attr("x1", function (d) { return Math.round(x(d)) + 0.5; }).attr("x2", function (d) { return Math.round(x(d)) + 0.5; })
        .attr("y1", subBottom).attr("y2", subBottom + 4).attr("stroke", "#000");
      tg.selectAll(".ttl").data(timeBars).enter().append("text")
        .attr("x", function (d) { return x(d); }).attr("y", 648).attr("font-size", 10).attr("fill", "#000")
        .text(function (d, i) { return timeLabels[i]; });
      cursorBars.forEach(function (b, i) {
        tg.append("rect").attr("x", x(b) - 39).attr("y", 637).attr("width", 78).attr("height", 14)
          .attr("fill", i ? "#dc143c" : "#ff0000");
        tg.append("text").attr("x", x(b)).attr("y", 648).attr("text-anchor", "middle").attr("font-size", 10)
          .attr("fill", "#fff").text(cursorLabels[i]);
      });
    </script>
  </body>
</html>
